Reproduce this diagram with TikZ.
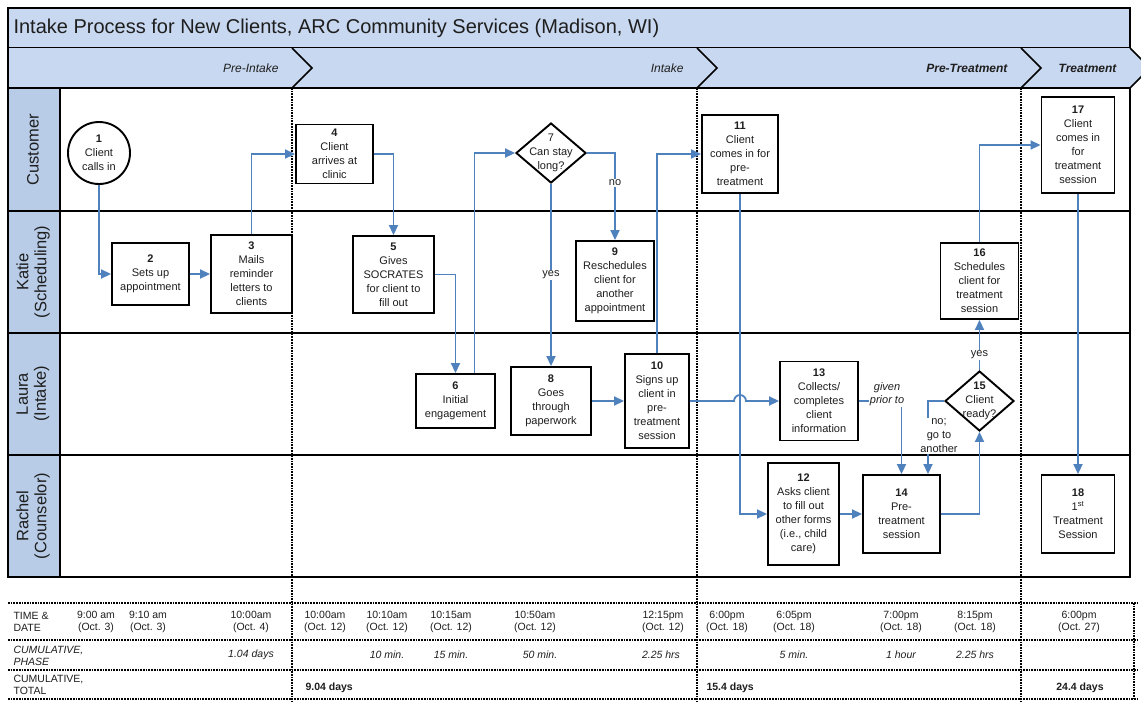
\documentclass[tikz,border=0pt]{standalone}
\usepackage{fontspec}
\setmainfont{Liberation Sans}
\usetikzlibrary{shapes.geometric, arrows.meta, positioning}
\definecolor{flowblue}{RGB}{79, 129, 189}
\definecolor{barblue}{RGB}{200, 216, 240}
\definecolor{laneblue}{RGB}{184, 204, 232}
\definecolor{inktext}{RGB}{30, 30, 30}

\begin{document}
\begin{tikzpicture}[x=1pt, y=-1pt,
    font=\fontsize{11}{14}\selectfont,
    task/.style={rectangle, draw=black, line width=1.9pt, fill=white, align=center, inner sep=1pt, text=inktext},
    decision/.style={diamond, draw=black, line width=1.9pt, fill=white, inner sep=0pt},
    flow/.style={draw=flowblue, line width=1.8pt, -{Triangle[length=10pt,width=9pt]}},
    tag/.style={fill=white, inner sep=1pt, text=inktext, align=center},
    lanelabel/.style={rotate=90, align=center, font=\fontsize{16.5}{18}\selectfont, text=inktext},
    phasetext/.style={anchor=east, font=\fontsize{12}{14}\selectfont\itshape, text=inktext},
    cell/.style={align=center, font=\fontsize{10.5}{11.5}\selectfont, text=inktext},
    dotline/.style={densely dotted, line width=1.7pt},
]
                \useasboundingbox (0,0) rectangle (1141,702);

                % Title and phase bars
                \draw[line width=1.7pt, fill=barblue] (8,8) rectangle (1130,48);
                \node[anchor=west, font=\fontsize{20}{22}\selectfont, text=inktext] (title) at (10,28) {Intake Process for New Clients, ARC Community Services (Madison, WI)};
                \fill[barblue] (8,48) -- (1130,48) -- (1150,68) -- (1130,88) -- (8,88) -- cycle;
                \draw[line width=1.7pt] (8,48) -- (8,88);
                \foreach \x in {292,697,1021,1130} {
                    \draw[line width=1.5pt] (\x,48) -- (\x+20,68) -- (\x,88);
                }
                \node[phasetext] (ph1) at (282,68) {Pre-Intake};
                \node[phasetext] (ph2) at (687,68) {Intake};
                \node[phasetext, font=\fontsize{12}{14}\selectfont\bfseries\itshape] (ph3) at (1011,68) {Pre-Treatment};
                \node[phasetext, font=\fontsize{12}{14}\selectfont\bfseries\itshape] (ph4) at (1120,68) {Treatment};

                % Swim lanes
                \draw[line width=1.7pt, fill=laneblue] (8,88) rectangle (60,577);
                \draw[line width=1.7pt] (8,88) rectangle (1130,577);
                \foreach \y in {211,333,455} {
                    \draw[line width=1.7pt] (8,\y) -- (1130,\y);
                }
                \node[lanelabel] (lane1) at (33,150) {Customer};
                \node[lanelabel] (lane2) at (33,272) {Katie\\(Scheduling)};
                \node[lanelabel] (lane3) at (33,394) {Laura\\(Intake)};
                \node[lanelabel] (lane4) at (33,516) {Rachel\\(Counselor)};

                % Phase boundaries
                \foreach \x in {292,697,1021} {
                    \draw[dotline] (\x,88) -- (\x,702);
                }

                % Steps
                \node[task, circle, minimum size=62pt] (n1) at (99,153) {\textbf{1}\\Client\\calls in};
                \node[task, minimum width=77pt, minimum height=62pt] (n2) at (150.5,274) {\textbf{2}\\Sets up\\appointment};
                \node[task, minimum width=81pt, minimum height=78pt] (n3) at (251.5,274) {\textbf{3}\\Mails\\reminder\\letters to\\clients};
                \node[task, minimum width=77pt, minimum height=59pt] (n4) at (334.5,154) {\textbf{4}\\Client\\arrives at\\clinic};
                \node[task, minimum width=81pt, minimum height=77pt] (n5) at (393.5,274.5) {\textbf{5}\\Gives\\SOCRATES\\for client to\\fill out};
                \node[task, minimum width=79pt, minimum height=54pt] (n6) at (455.5,401) {\textbf{6}\\Initial\\engagement};
                \node[decision, minimum width=70pt, minimum height=60pt] (n7) at (551,153) {};
                \node[align=center, text=inktext] (t7) at (n7) {7\\Can stay\\long?};
                \node[task, minimum width=80pt, minimum height=68pt] (n8) at (551,401) {\textbf{8}\\Goes\\through\\paperwork};
                \node[task, minimum width=78pt, minimum height=80pt] (n9) at (615,281) {\textbf{9}\\Reschedules\\client for\\another\\appointment};
                \node[task, minimum width=64pt, minimum height=94pt] (n10) at (657,401) {\textbf{10}\\Signs up\\client in\\pre-\\treatment\\session};
                \node[task, minimum width=76pt, minimum height=78pt] (n11) at (740,154) {\textbf{11}\\Client\\comes in for\\pre-\\treatment};
                \node[task, minimum width=71pt, minimum height=102pt] (n12) at (803.5,514) {\textbf{12}\\Asks client\\to fill out\\other forms\\(i.e., child\\care)};
                \node[task, minimum width=78pt, minimum height=79pt] (n13) at (819,401) {\textbf{13}\\Collects/\\completes\\client\\information};
                \node[task, minimum width=77pt, minimum height=78pt] (n14) at (901.5,514) {\textbf{14}\\Pre-\\treatment\\session};
                \node[decision, minimum width=69pt, minimum height=60pt] (n15) at (979.5,401) {};
                \node[align=center, text=inktext] (t15) at (n15) {\textbf{15}\\Client\\ready?};
                \node[task, minimum width=78pt, minimum height=76pt] (n16) at (979.5,281) {\textbf{16}\\Schedules\\client for\\treatment\\session};
                \node[task, minimum width=73pt, minimum height=96pt] (n17) at (1078,145) {\textbf{17}\\Client\\comes in\\for\\treatment\\session};
                \node[task, minimum width=73pt, minimum height=78pt] (n18) at (1078,514) {\textbf{18}\\1\textsuperscript{st}\\Treatment\\Session};

                % Connectors
                \draw[flow] (n1.south) |- (n2.west);
                \draw[flow] (n2.east) -- (n3.west);
                \draw[flow] (n3.north) |- (n4.west);
                \draw[flow] (n4.east) -| (n5.north);
                \draw[flow] (n5.east) -| (n6.north);
                \draw[flow] ([xshift=19pt]n6.north) |- (n7.west);
                \draw[flow] (n7.east) -| node[tag, pos=0.67] {no} (n9.north);
                \draw[flow] (n7.south) -- node[tag] {yes} (n8.north);
                \draw[flow] (n8.east) -- (n10.west);
                \draw[flow] (n10.north) |- (n11.west);
                \draw[flow] (n10.east) -- ([xshift=-6pt]n11.south |- n10.east) arc (180:0:6pt) -- (n13.west);
                \draw[flow] (n11.south) |- (n12.west);
                \draw[flow] (n12.east) -- (n14.west);
                \draw[flow] (n13.east) -| node[tag, pos=0.33, yshift=7pt, font=\fontsize{11}{13}\selectfont\itshape] {given\\prior to} (n14.north);
                \draw[flow] (n15.west) -| node[tag, pos=0.74, xshift=11pt] {no;\\go to\\another} ([xshift=26.5pt]n14.north);
                \draw[flow] (n14.east) -| (n15.south);
                \draw[flow] (n15.north) -- node[tag, pos=0.3] {yes} (n16.south);
                \draw[flow] (n16.north) |- (n17.west);
                \draw[flow] (n17.south) -- (n18.north);

                % Timing table
                \foreach \y in {603,640,670,699} {
                    \draw[dotline] (8,\y) -- (1138,\y);
                }
                \draw[dotline] (1134,603) -- (1134,699);
                \node[cell, anchor=west, align=left] (row1) at (10,622) {TIME \&\\DATE};
                \node[cell, anchor=west, align=left, font=\fontsize{10.5}{11.5}\selectfont\itshape] (row2) at (10,656) {CUMULATIVE,\\PHASE};
                \node[cell, anchor=west, align=left] (row3) at (10,685) {CUMULATIVE,\\TOTAL};
                \foreach \x/\t/\d in {96/9:00 am/Oct. 3, 148/9:10 am/Oct. 3, 251/10:00am/Oct. 4, 325/10:00am/Oct. 12,
                    387/10:10am/Oct. 12, 451/10:15am/Oct. 12, 535/10:50am/Oct. 12, 663/12:15pm/Oct. 12,
                    727/6:00pm/Oct. 18, 794/6:05pm/Oct. 18, 901/7:00pm/Oct. 18, 975/8:15pm/Oct. 18, 1079/6:00pm/Oct. 27} {
                    \node[cell] (time\x) at (\x,622) {\t\\(\d)};
                }
                \foreach \x/\v in {251/1.04 days, 387/10 min., 451/15 min., 540/50 min., 661/2.25 hrs,
                    794/5 min., 901/1 hour, 975/2.25 hrs} {
                    \node[cell, font=\fontsize{10.5}{11.5}\selectfont\itshape] (phase\x) at (\x,655) {\v};
                }
                \node[cell, anchor=west, font=\fontsize{10.5}{11.5}\selectfont\bfseries] (total1) at (302,688) {9.04 days};
                \node[cell, anchor=west, font=\fontsize{10.5}{11.5}\selectfont\bfseries] (total2) at (703,688) {15.4 days};
                \node[cell, font=\fontsize{10.5}{11.5}\selectfont\bfseries] (total3) at (1080,688) {24.4 days};
            \end{tikzpicture}
\end{document}
